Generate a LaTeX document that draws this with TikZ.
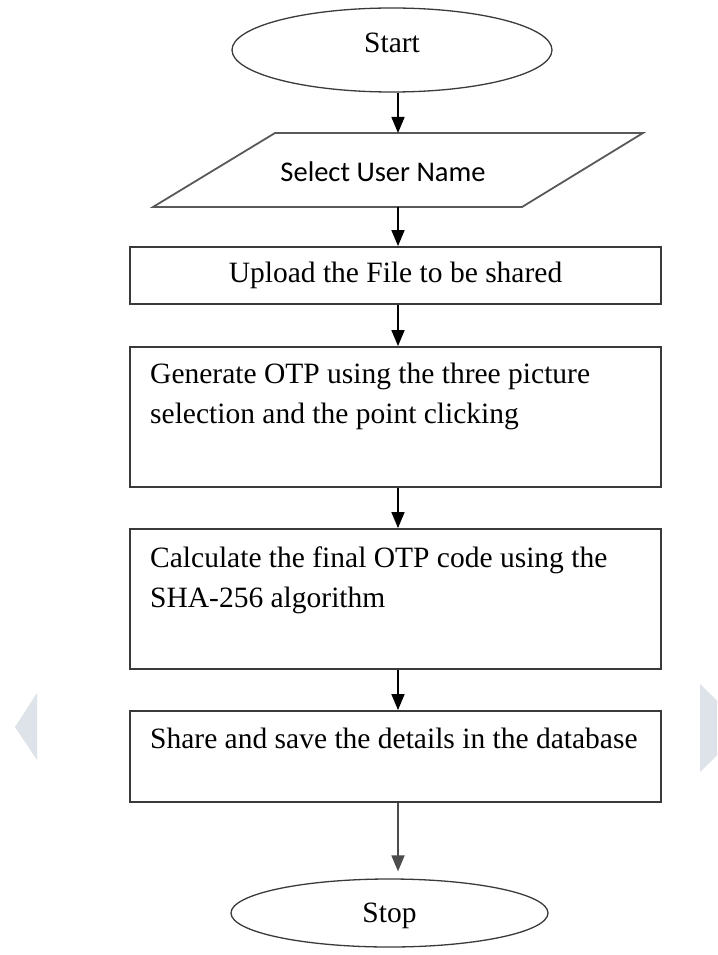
\documentclass[tikz,border=0pt]{standalone}
\usepackage{fontspec}
\setmainfont{Liberation Serif}
\newfontfamily\inputfont{Carlito}
\usetikzlibrary{arrows.meta,shapes.geometric}
\definecolor{sidegray}{HTML}{DDE3E8}
\definecolor{edgegray}{HTML}{3A3A3A}
\begin{document}
\begin{tikzpicture}[x=1pt,y=-1pt,
  term/.style={ellipse,draw=edgegray,line width=1.3pt,inner sep=0pt,
    font=\fontsize{29.5}{36}\selectfont},
  procbox/.style={rectangle,draw=edgegray,line width=1.8pt,minimum width=531pt,
    inner sep=0pt,font=\fontsize{29.5}{36}\selectfont},
  boxtext/.style={anchor=base west,inner sep=0pt,font=\fontsize{29.5}{40}\selectfont},
  flow/.style={-{Triangle[length=16pt,width=13pt]},line width=1.5pt,black},
  sidemark/.style={fill=sidegray,draw=none}]
% page frame
\useasboundingbox (0,0) rectangle (717,955);
\clip (0,0) rectangle (717,955);

% pale page-turn marks at the sides
\fill[sidemark] (37,693) -- (15,727) -- (37,760) -- cycle;
\fill[sidemark] (700,684) -- (745,728) -- (700,772) -- cycle;

% terminals
\node[term,minimum width=320pt,minimum height=84pt] (start) at (392,50)
  {\raisebox{-3pt}[0pt][0pt]{Start}};
\node[term,minimum width=317pt,minimum height=68pt] (stop) at (389.5,913)
  {\raisebox{-9pt}[0pt][0pt]{Stop}};

% input (parallelogram)
\draw[draw=black!65,line width=1.8pt,line join=miter]
  (153,207) -- (275,133) -- (643,133) -- (522,207) -- cycle;
\coordinate (seltop) at (398,133);
\coordinate (selbot) at (398,207);
\node[anchor=base,inner sep=0pt,font=\inputfont\fontsize{28.5}{34}\selectfont]
  (sel) at (383,181) {Select User Name};

% process boxes
\node[procbox,minimum height=57pt] (upload) at (395.5,275.5)
  {Upload the File to be shared};
\node[procbox,minimum height=140pt] (gen) at (395.5,417) {};
\node[boxtext] (gentext) at (150,383)
  {\parbox[t]{500pt}{Generate OTP using the three picture\\selection and the point clicking}};
\node[procbox,minimum height=140pt] (calc) at (395.5,599) {};
\node[boxtext] (calctext) at (150,567)
  {\parbox[t]{500pt}{Calculate the final OTP code using the\\SHA-256 algorithm}};
\node[procbox,minimum height=91pt] (share) at (395.5,756.5) {};
\node[boxtext] (sharetext) at (150,748)
  {Share and save the details in the database};

% connectors
\draw[flow] (start.south -| seltop) -- (seltop);
\draw[flow] (selbot) -- (selbot |- upload.north);
\draw[flow] (selbot |- upload.south) -- (selbot |- gen.north);
\draw[flow] (selbot |- gen.south) -- (selbot |- calc.north);
\draw[flow] (selbot |- calc.south) -- (selbot |- share.north);
\draw[flow,draw=black!70,line width=1.8pt,shorten >=7pt] (selbot |- share.south) -- (selbot |- stop.north);
\end{tikzpicture}
\end{document}
